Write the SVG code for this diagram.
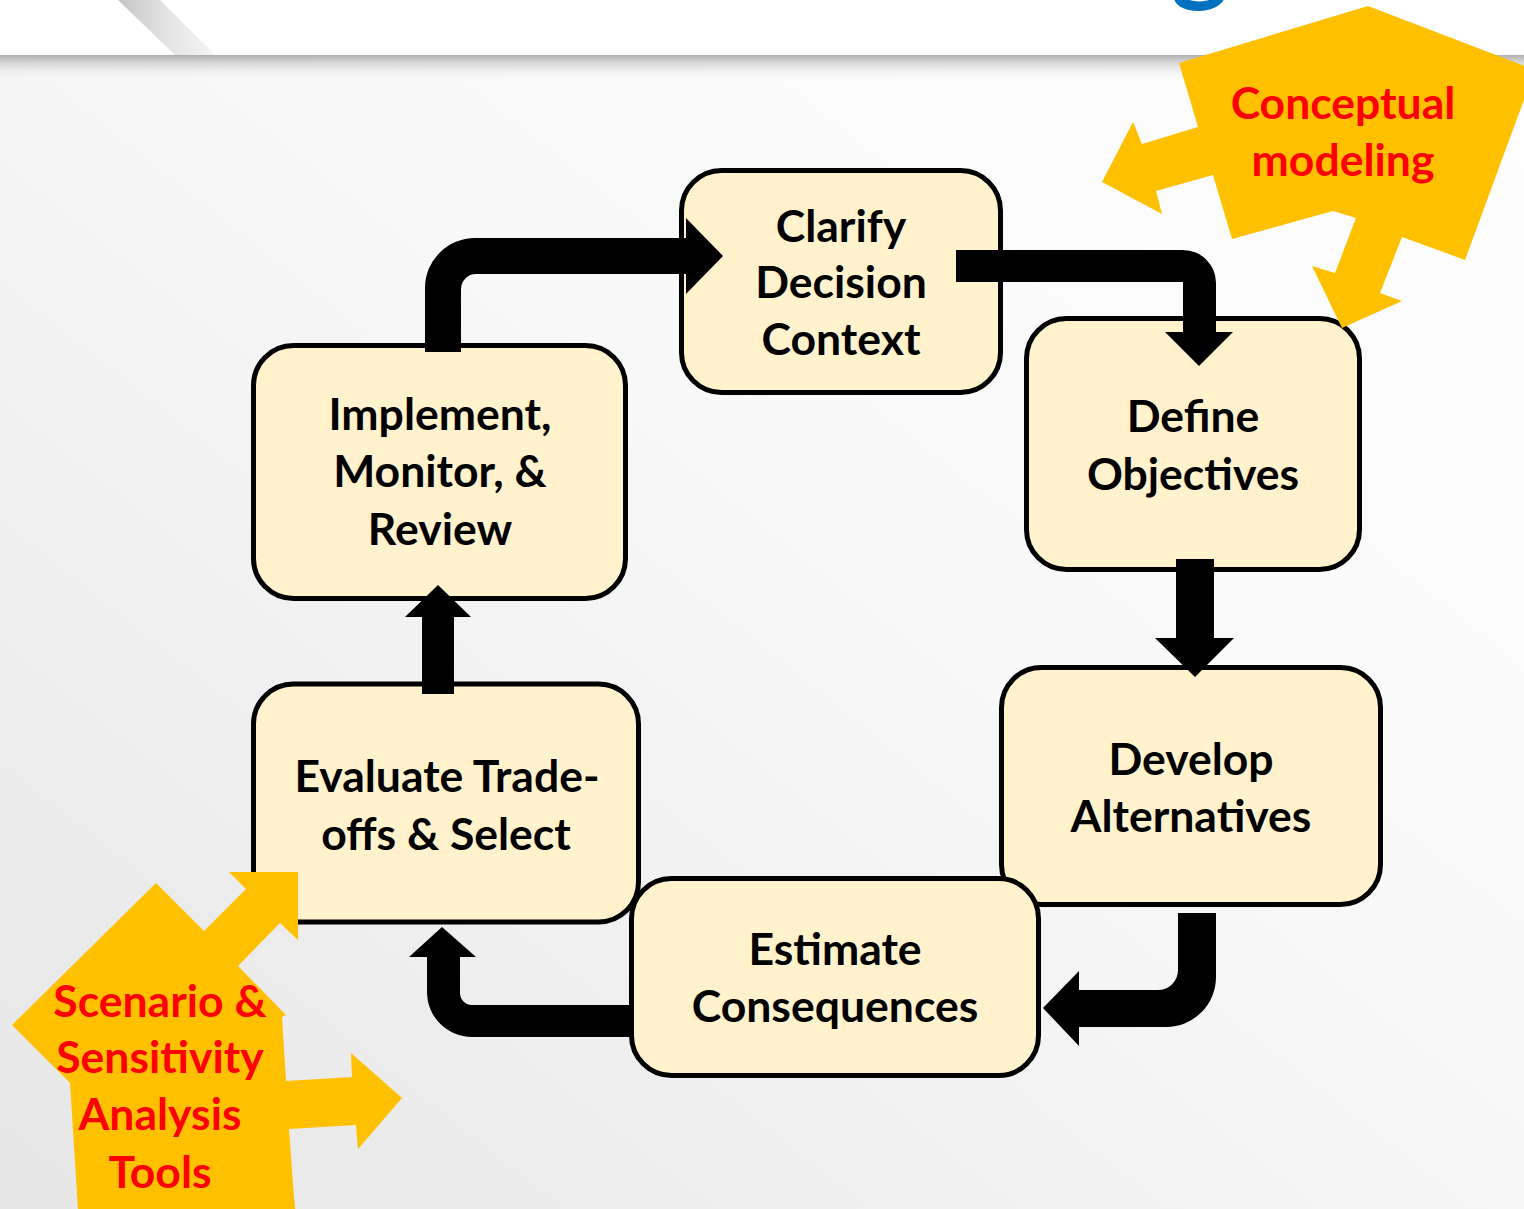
<svg xmlns="http://www.w3.org/2000/svg" width="1524" height="1209" viewBox="0 0 1524 1209">
<defs>
<linearGradient id="bg" x1="0" y1="1" x2="1" y2="0">
<stop offset="0" stop-color="#e6e6e6"/>
<stop offset="0.55" stop-color="#f8f8f8"/>
<stop offset="1" stop-color="#ffffff"/>
</linearGradient>
<linearGradient id="shadow" x1="0" y1="0" x2="0" y2="1">
<stop offset="0" stop-color="#9a9a9a" stop-opacity="0.85"/>
<stop offset="0.45" stop-color="#c8c8c8" stop-opacity="0.5"/>
<stop offset="1" stop-color="#eeeeee" stop-opacity="0"/>
</linearGradient>
<linearGradient id="stripe" x1="0" y1="0" x2="1" y2="0">
<stop offset="0" stop-color="#c4c4c4"/>
<stop offset="0.5" stop-color="#e4e4e4"/>
<stop offset="1" stop-color="#f4f4f4"/>
</linearGradient>
<style>
.box{fill:#FFF2CC;stroke:#000;stroke-width:5}
.t{font-family:Lato,"Open Sans","Liberation Sans",sans-serif;font-weight:bold;font-size:44.5px;fill:#000;text-anchor:middle}
.r{font-family:Lato,"Open Sans","Liberation Sans",sans-serif;font-weight:bold;font-size:44.5px;fill:#FF0000;text-anchor:middle}
.y{fill:#FFC000}
.arr{fill:#000}
</style>
</defs>
<rect x="0" y="0" width="1524" height="1209" fill="url(#bg)"/>
<g id="header">
<rect x="0" y="54" width="1524" height="26" fill="url(#shadow)"/>
<rect x="0" y="0" width="1524" height="55" fill="#ffffff"/>
<polygon points="118,0 160,0 215,55 175,55" fill="url(#stripe)"/>
<text x="1200" y="-9" font-family="Lato,'Open Sans',sans-serif" font-size="110" font-weight="bold" fill="#0070C0" text-anchor="middle">g</text>
</g>
<g id="node-develop">
<rect class="box" x="1001.5" y="667.5" width="379" height="237" rx="40"/>
<text class="t" x="1191" y="775">Develop</text>
<text class="t" x="1191" y="832">Alternatives</text>
</g>
<g id="node-estimate">
<rect class="box" x="631.5" y="878.5" width="407" height="197" rx="40"/>
<text class="t" x="835" y="965">Estimate</text>
<text class="t" x="835" y="1022">Consequences</text>
</g>
<g id="node-evaluate">
<rect class="box" x="253.5" y="684" width="385" height="238" rx="40"/>
<text class="t" x="447" y="792">Evaluate Trade-</text>
<text class="t" x="446" y="850">offs &amp; Select</text>
</g>
<g id="node-implement">
<rect class="box" x="253.5" y="345.5" width="372" height="253" rx="40"/>
<text class="t" x="440" y="430">Implement,</text>
<text class="t" x="440" y="487">Monitor, &amp;</text>
<text class="t" x="440" y="545">Review</text>
</g>
<g id="node-clarify">
<rect class="box" x="681.5" y="170.5" width="319" height="222" rx="40"/>
<text class="t" x="841" y="242">Clarify</text>
<text class="t" x="841" y="298">Decision</text>
<text class="t" x="841" y="355">Context</text>
</g>
<g id="node-define">
<rect class="box" x="1026.5" y="318.5" width="333" height="251" rx="40"/>
<text class="t" x="1193" y="432">Define</text>
<text class="t" x="1193" y="490">Objectives</text>
</g>
<g id="connectors">
<path class="arr" d="M425,352 V288 A50,50 0 0 1 475,238 H686 V218 L723,256 L686,294 V274 H476 A15,15 0 0 0 461,289 V352 Z"/>
<path class="arr" d="M956,250 H1183 A33,33 0 0 1 1216,283 V332 H1233 L1199,366 L1165,332 H1183 V282 H956 Z"/>
<path class="arr" d="M1176,559 H1214 V638 H1234 L1195,677 L1155,638 H1176 Z"/>
<path class="arr" d="M1178,913 H1216 V977 A50,50 0 0 1 1166,1027 H1079 V1046 L1043,1008 L1079,971 V990 H1158 A20,20 0 0 0 1178,970 Z"/>
<path class="arr" d="M631,1005 H472 A12,12 0 0 1 460,993 V957 H476 L442,927 L409,957 H427 V992 A45,45 0 0 0 472,1037 H631 Z"/>
<path class="arr" d="M422,694 V617 H405 L438,585 L471,617 H454 V694 Z"/>
</g>
<g id="callout-conceptual">
<polygon class="y" points="1368,6 1535,70 1465,260 1402,237 1380,293 1402,301 1342,328 1312,266 1335,273 1356,218 1333,211 1232,239 1213,175 1156,191 1162,214 1102,182 1133,122 1142,144 1198,127 1179,63"/>
<text class="r" x="1343" y="119">Conceptual</text>
<text class="r" x="1343" y="176">modeling</text>
</g>
<g id="callout-scenario">
<polygon class="y" points="156,883 204,931 246,889 229,872 298,872 298,940 280,923 238,966 286,1015 282,1017 286,1081 352,1077 351,1053 402,1098 358,1149 356,1125 289,1129 294,1198 296,1215 78,1215 78,1209 70,1083 12,1025"/>
<text class="r" x="160" y="1017">Scenario &amp;</text>
<text class="r" x="160" y="1073">Sensitivity</text>
<text class="r" x="160" y="1130">Analysis</text>
<text class="r" x="160" y="1188">Tools</text>
</g>
</svg>
